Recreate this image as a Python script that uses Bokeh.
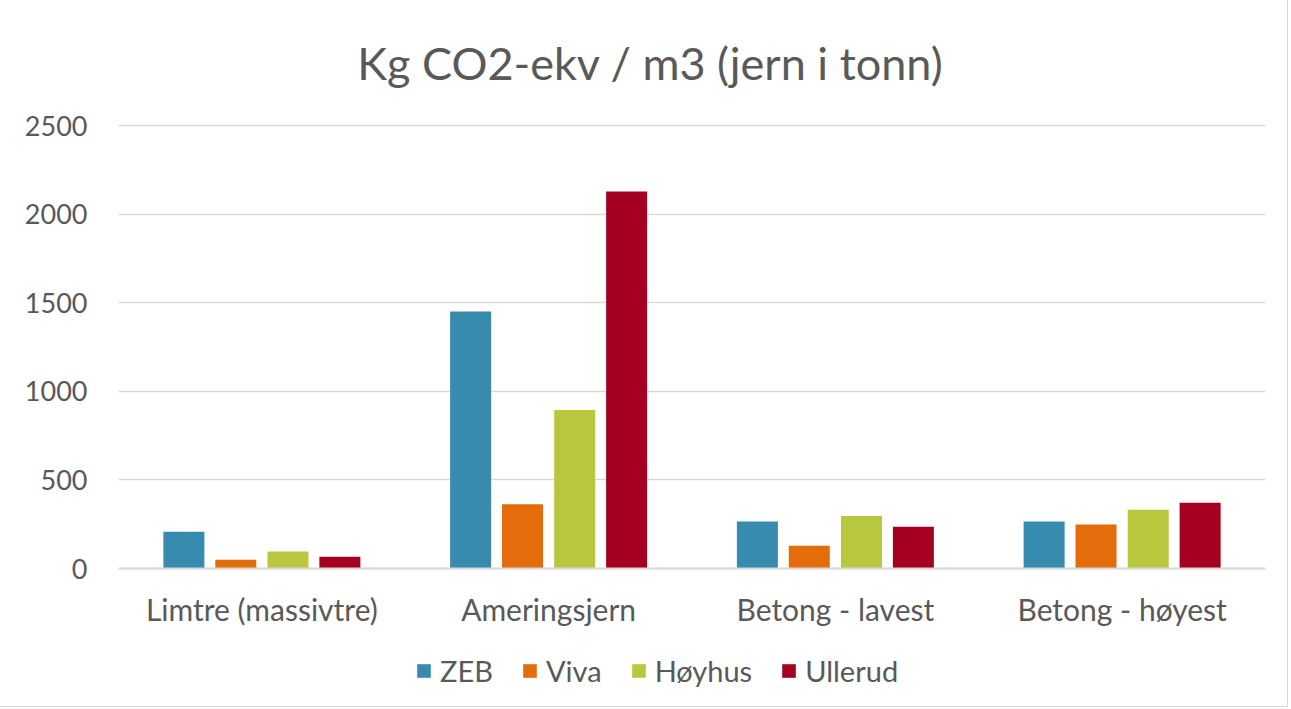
from bokeh.plotting import figure
from bokeh.models import (Legend, LegendItem, Range1d, FactorRange, FixedTicker, Span, Label,
                          ColumnDataSource)
from bokeh.core.properties import value
from bokeh.transform import dodge
from bokeh.embed import file_html
from bokeh.resources import INLINE

categories = ["Limtre (massivtre)", "Ameringsjern", "Betong - lavest", "Betong - høyest"]
series = ["ZEB", "Viva", "Høyhus", "Ullerud"]
zeb = [207, 1450, 265, 265]
viva = [49, 363, 128, 248]
hoyhus = [96, 894, 296, 331]
ullerud = [66, 2128, 235, 371]
y_ticks = [0, 500, 1000, 1500, 2000, 2500]
title_text = "Kg CO2-ekv / m3 (jern i tonn)"
colors = ["#378BAF", "#E46C0A", "#B8C73E", "#A50021"]

FONT = "Lato"
TXT = "#595959"

# layout (pixels): plot body from y=125 (top value) to y=568 (zero); figure 706 high
FRAME_H = 706
TOP_PX, ZERO_PX = 125, 568
upp = y_ticks[-1] / (ZERO_PX - TOP_PX)
y_max = y_ticks[-1] + TOP_PX * upp
y_min = -(FRAME_H - ZERO_PX) * upp

src = ColumnDataSource(dict(cat=categories, ZEB=zeb, Viva=viva, Hoyhus=hoyhus, Ullerud=ullerud))
cols = ["ZEB", "Viva", "Hoyhus", "Ullerud"]

p = figure(frame_width=1147, frame_height=FRAME_H, x_range=FactorRange(*categories),
           y_range=Range1d(y_min, y_max),
           output_backend="svg", toolbar_location=None,
           min_border_left=118, min_border_right=22, min_border_top=0, min_border_bottom=0)

offsets = [-0.272, -0.091, 0.091, 0.272]
renderers = []
for col, name, off, c in zip(cols, series, offsets, colors):
    r = p.vbar(x=dodge("cat", off, range=p.x_range), top=col, bottom=0, width=0.143, source=src,
               fill_color=c, line_color=None)
    renderers.append((name, r))

p.outline_line_color = None
p.xgrid.grid_line_color = None
p.xaxis.visible = False
p.ygrid.grid_line_color = "#D9D9D9"
p.ygrid.grid_line_width = 1.5
p.yaxis.ticker = FixedTicker(ticks=y_ticks)
p.yaxis.axis_line_color = None
p.yaxis.major_tick_line_color = None
p.yaxis.minor_tick_line_color = None
p.yaxis.major_label_text_font = FONT
p.yaxis.major_label_text_font_size = "27px"
p.yaxis.major_label_text_color = TXT
p.yaxis.major_label_standoff = 25

p.add_layout(Span(location=0, dimension="width", line_color="#D9D9D9", line_width=2))

p.text(x=categories, y=0, text=categories, y_offset=40, text_align="center",
       text_baseline="middle", text_font=value(FONT), text_font_size="30px", text_color=TXT)

p.add_layout(Label(x=532, y=FRAME_H - 62, x_units="screen", y_units="screen", text=title_text,
                   text_align="center", text_baseline="middle", text_font=FONT,
                   text_font_size="45px", text_color=TXT))

legend = Legend(items=[LegendItem(label=n, renderers=[r]) for n, r in renderers],
                orientation="horizontal", location=(297, 18),
                label_text_font=FONT, label_text_font_size="29px", label_text_color=TXT,
                glyph_width=17, glyph_height=17, spacing=28, label_standoff=8,
                border_line_color=None, background_fill_alpha=0, padding=0, margin=0)
p.add_layout(legend, "center")

p.stylesheets = [":host { outline: 1px solid #D9D9D9; }"]

open("out.html", "w").write(file_html(p, INLINE))
